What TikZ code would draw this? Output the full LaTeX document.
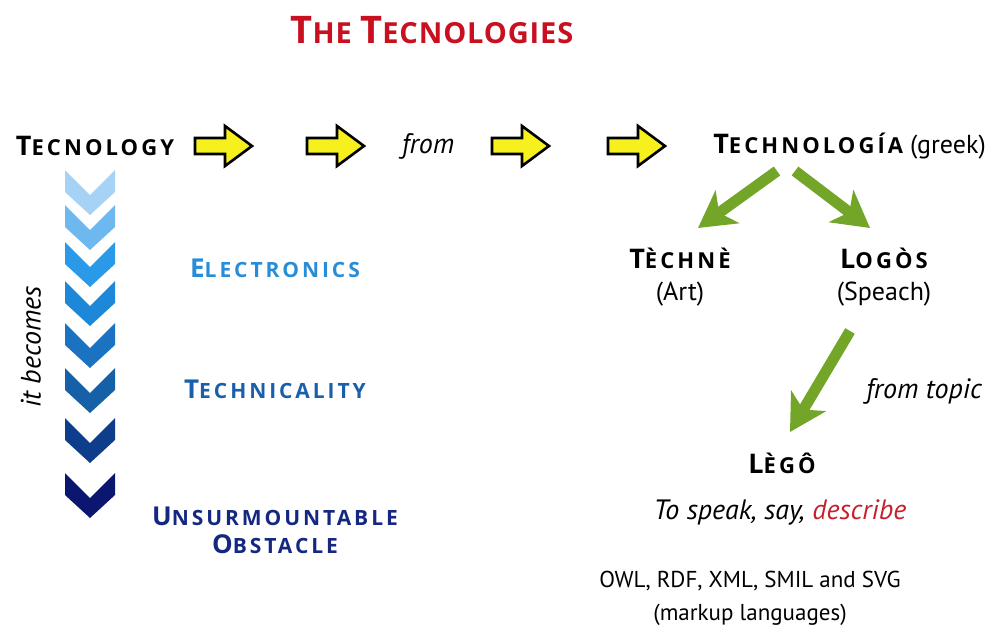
\documentclass[tikz,border=0pt]{standalone}
\usepackage{fontspec}
\setmainfont{PT Sans}
\newfontfamily\hd{Open Sans}[LetterSpace=14]
\newfontfamily\ttl{Open Sans}[LetterSpace=3]
\usetikzlibrary{arrows.meta}

\definecolor{titlered}{RGB}{200,16,32}
\definecolor{descred}{RGB}{200,30,45}
\definecolor{leafgreen}{RGB}{115,165,40}
\definecolor{arrowyellow}{RGB}{246,240,30}
\definecolor{elblue}{RGB}{40,140,215}
\definecolor{teblue}{RGB}{25,95,170}
\definecolor{unblue}{RGB}{20,40,130}
\definecolor{chA}{RGB}{166,210,246}
\definecolor{chB}{RGB}{110,184,240}
\definecolor{chC}{RGB}{42,154,232}
\definecolor{chD}{RGB}{30,136,216}
\definecolor{chE}{RGB}{26,114,192}
\definecolor{chF}{RGB}{22,96,168}
\definecolor{chG}{RGB}{14,61,140}
\definecolor{chH}{RGB}{10,22,112}

% small caps built from two sizes: #1 large, #2 small, #3 initial, #4 rest
\newcommand\SCword[4]{{\fontsize{#1}{#1}\selectfont #3}{\fontsize{#2}{#2}\selectfont #4}}

\tikzset{
  head/.style={inner sep=0pt, font=\hd\bfseries},
  plain/.style={inner sep=0pt, font=\fontsize{26}{30}\selectfont},
  slanted/.style={inner sep=0pt, font=\fontsize{28}{32}\selectfont\itshape},
  yarrow/.pic={
    \draw[line width=2.6pt, line join=miter, fill=arrowyellow]
      (0,-8) -- (30,-8) -- (30,-20) -- (57,0) -- (30,20) -- (30,8) -- (0,8) -- cycle;
  },
  garrow/.style={draw=leafgreen, line width=11pt,
    -{Stealth[length=36pt, width=40pt, inset=10pt, fill=leafgreen]}},
}

\begin{document}
\begin{tikzpicture}[x=1pt, y=-1pt]
\useasboundingbox (0,0) rectangle (992,634);

% title
\node[inner sep=0pt, font=\ttl\bfseries, text=titlered] (title) at (432,30)
  {\SCword{38}{29}{T}{HE }\SCword{38}{29}{T}{ECNOLOGIES}};

% top row
\node[head] (tecnology) at (95,146) {\SCword{27}{22}{T}{ECNOLOGY}};
\pic at (195,146) {yarrow};
\pic at (307,146) {yarrow};
\node[slanted] (from) at (428,146) {from};
\pic at (492,146) {yarrow};
\pic at (608,146) {yarrow};
\node[anchor=east, inner sep=0pt] (technologia) at (986,146)
  {{\hd\bfseries\SCword{27}{22}{T}{ECHNOLOGÍA}}\fontsize{26}{30}\selectfont\ (greek)};

% descending chevrons
\foreach \t/\c in {170/chA, 205/chB, 242/chC, 281/chD, 323/chE, 368/chF, 418/chG, 473/chH}
  \fill[\c] (65,\t) -- (90,\t+25) -- (115,\t) -- (115,\t+22) -- (90,\t+45) -- (65,\t+22) -- cycle;
\node[slanted, rotate=90] (becomes) at (31,347) {it becomes};

\node[head, text=elblue] (electronics) at (275,268) {\SCword{26}{21}{E}{LECTRONICS}};
\node[head, text=teblue] (technicality) at (275,389) {\SCword{26}{21}{T}{ECHNICALITY}};
\node[head, text=unblue, align=center] (obstacle) at (275,530)
  {\SCword{26}{21}{U}{NSURMOUNTABLE}\\[8pt]\SCword{26}{21}{O}{BSTACLE}};

% derivation tree
\node[head] (techne) at (680,258) {\SCword{27}{22}{T}{ÈCHNÈ}};
\node[plain] (art) at (680,294) {(Art)};
\node[head] (logos) at (884,258) {\SCword{27}{22}{L}{OGÒS}};
\node[plain] (speach) at (884,294) {(Speach)};
\node[slanted] (fromtopic) at (924,391) {from topic};
\node[head] (lego) at (782,463) {\SCword{27}{22}{L}{ÈGÔ}};
\node[slanted] (speak) at (780,512) {To speak, say, \textcolor{descred}{describe}};
\node[plain, align=center, font=\fontsize{23}{33}\selectfont] (markup) at (750,598)
  {OWL, RDF, XML, SMIL and SVG\\(markup languages)};

\coordinate (gA) at (777,171);
\coordinate (gB) at (698,228);
\coordinate (gC) at (795,171);
\coordinate (gD) at (870,228);
\coordinate (gE) at (850,331);
\coordinate (gF) at (790,432);
\draw[garrow] (gA) -- (gB);
\draw[garrow] (gC) -- (gD);
\draw[garrow] (gE) -- (gF);
\end{tikzpicture}
\end{document}
